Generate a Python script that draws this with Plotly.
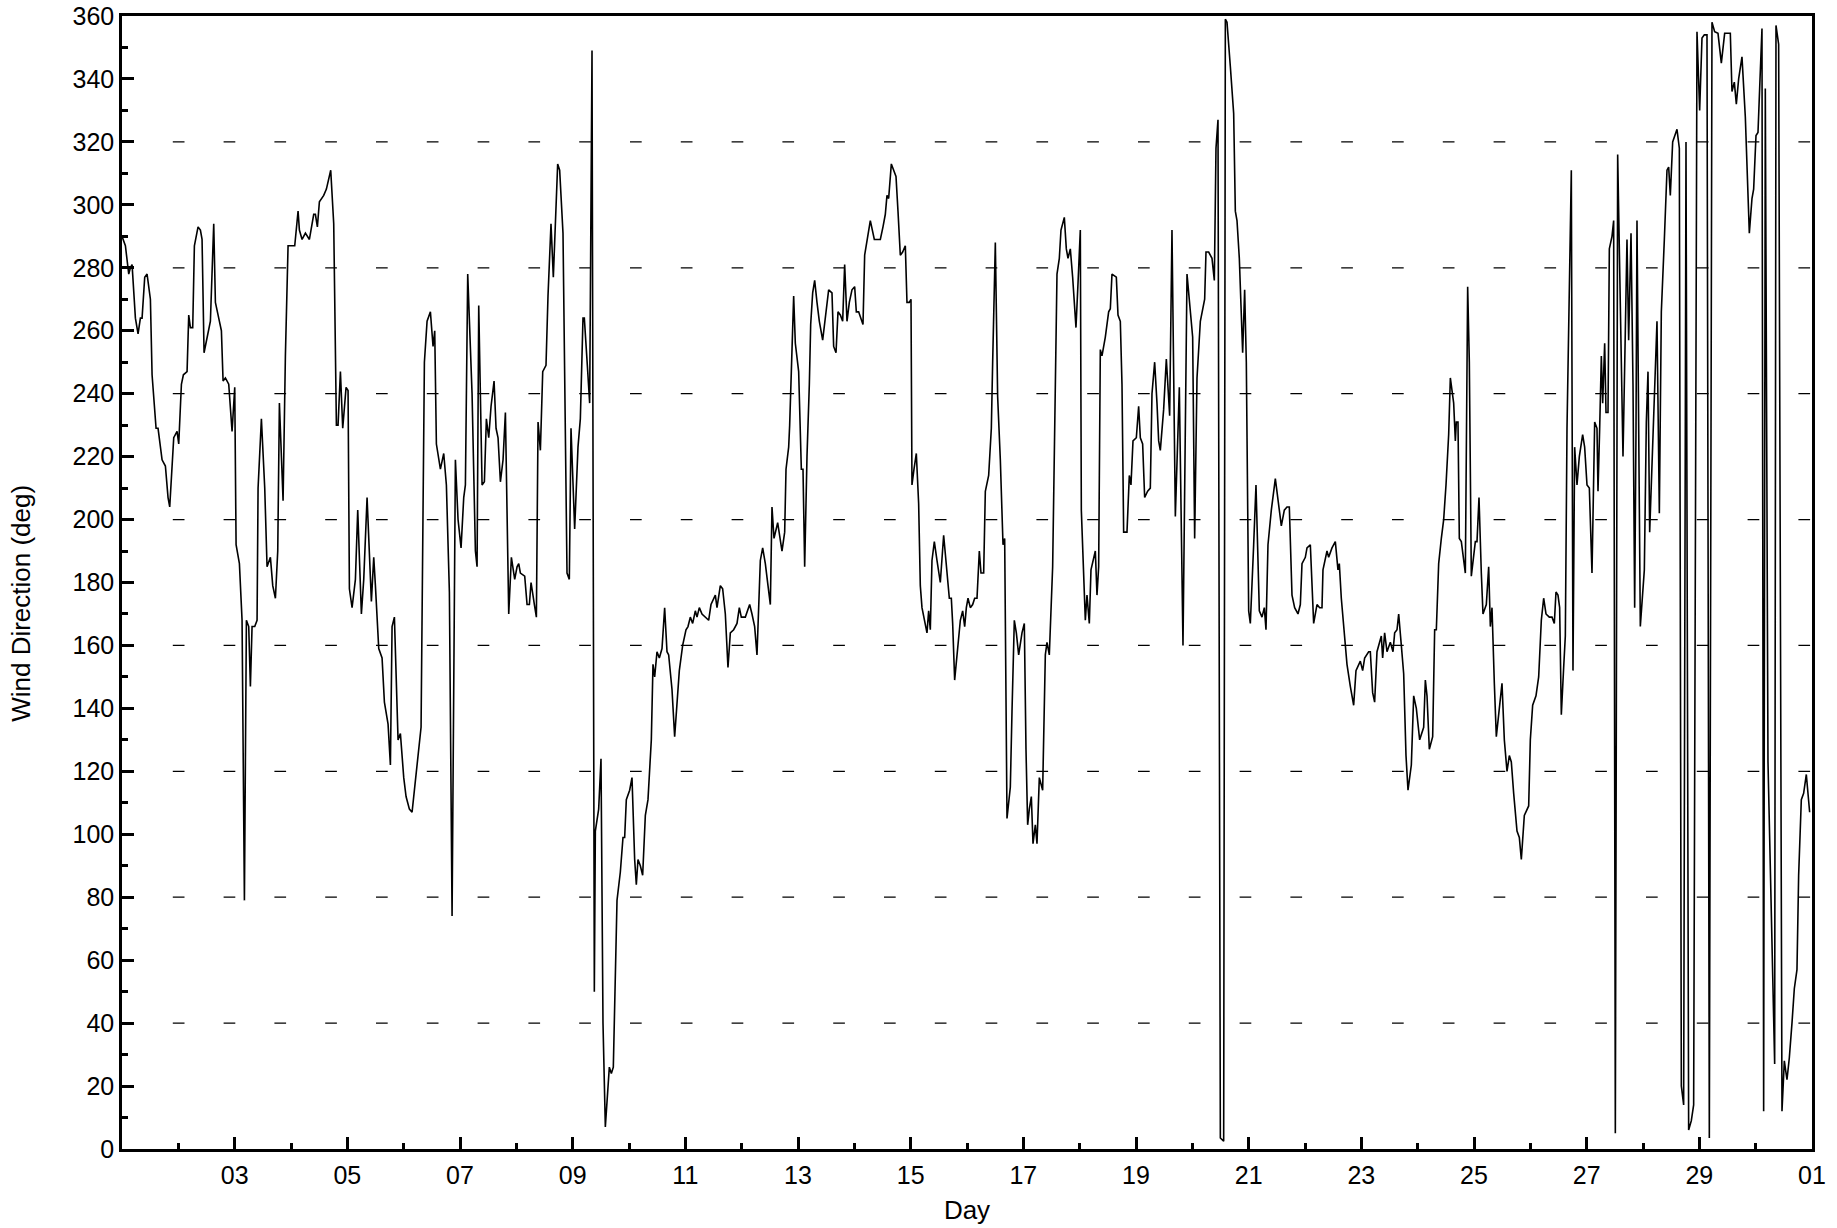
import datetime as dt
import plotly.graph_objects as go

# ---- data: hours since start of day 01, wind direction (deg) ----
hours_a = [0, 1.45, 2.87, 3.58, 4.29, 5.71, 6.84, 7.84, 8.55, 9.68,
           10.68, 12.1, 12.81, 13.52, 14.51, 15.36, 16.36, 17.07, 18.49, 19.62,
           20.33, 22.04, 23.46, 24.17, 25.31, 26.16, 27.72, 28.43, 29.14, 30.13,
           30.84, 32.4, 33.4, 34.11, 34.96, 36.24, 37.66, 39.08, 39.79, 41.21,
           42.35, 43.06, 44.05, 45.47, 46.89, 48.03, 48.6, 50.02, 51.15, 52.15,
           53.0, 53.99, 54.7, 55.41, 56.55, 57.54, 57.97, 59.39, 60.81, 61.8,
           63.23, 64.22, 65.36, 66.35, 67.06, 68.62, 69.61, 70.75, 72.03, 73.59,
           75.01, 75.58, 76.72, 78.14, 79.84, 81.68, 82.39, 83.24, 84.1, 85.94,
           87.08, 88.92, 90.2]
dir_a = [290, 287, 278, 280, 281, 264, 259, 264, 264, 277,
         278, 270, 246, 238, 229, 229, 223, 219, 217, 207,
         204, 226, 228, 224, 243, 246, 247, 265, 261, 261,
         287, 293, 292, 289, 253, 258, 263, 294, 269, 264,
         260, 244, 245, 243, 228, 242, 192, 186, 168, 79,
         168, 166, 147, 166, 166, 168, 210, 232, 210, 185,
         188, 179, 175, 190, 237, 206, 252, 287, 287, 287,
         298, 292, 289, 291, 289, 297, 297, 293, 301, 303,
         305, 311, 294]

hours_b = [91.34, 92.05, 93.05, 94.04, 95.46, 96.31, 96.88, 98.02, 99.44, 100.43,
           101.99, 102.99, 104.41, 106.25, 107.25, 107.96, 108.95, 109.38, 110.8, 111.79,
           113.35, 114.35, 115.06, 116.05, 117.61, 118.61, 120.03, 121.02, 122.44, 123.58,
           124.71, 126.13, 127.41, 128.83, 129.97, 131.39, 132.52, 133.23, 133.94, 135.65,
           137.07, 138.2, 139.48, 140.62, 142.04, 143.17, 144.45, 145.59, 146.3, 147.29,
           149.14, 150.56, 151.27, 151.98, 153.4, 154.39, 155.24, 156.24, 157.23, 158.51,
           159.36, 160.21, 161.21, 162.34, 163.34, 164.76, 165.89, 167.31, 168.31, 169.02,
           169.73, 171.57, 172.57, 173.56, 174.27, 175.69, 176.54, 177.25, 178.25, 179.24]
dir_b = [230, 230, 247, 229, 242, 241, 178, 172, 181, 203,
         170, 181, 207, 174, 188, 179, 166, 159, 156, 142,
         135, 122, 166, 169, 130, 132, 118, 112, 108, 107,
         115, 125, 134, 250, 263, 266, 255, 260, 224, 216,
         221, 211, 177, 74, 219, 200, 191, 207, 211, 278,
         240, 190, 185, 268, 211, 212, 232, 226, 236, 244,
         229, 226, 212, 219, 234, 170, 188, 181, 185, 186,
         183, 182, 173, 173, 180, 173, 169, 231, 222, 247]

hours_c = [180.64, 181.49, 182.77, 183.76, 185.61, 186.46, 187.88, 189.59, 190.58, 191.29,
           192.85, 194.27, 195.27, 196.4, 196.97, 198.25, 199.24, 200.24, 201.23, 201.66,
           203.08, 204.07, 204.92, 205.92, 206.63, 207.62, 208.47, 209.32, 210.89, 212.31,
           213.44, 214.15, 214.86, 216.28, 217.28, 218.41, 219.12, 219.83, 220.83, 221.82,
           222.96, 224.09, 225.51, 226.22, 226.93, 227.93, 228.92, 230.06, 231.19, 232.19,
           232.9, 234.32, 235.45, 236.45, 237.44, 238.86, 240.28, 241.13, 242.13, 243.12,
           244.26, 244.97, 245.96, 247.1, 249.94, 250.93, 252.78, 253.49, 254.91, 255.9,
           257.04, 258.17, 259.17, 260.59, 262.01, 263, 263.85, 265.56, 267.4, 268.4,
           269.53]
dir_c = [249, 271, 294, 277, 313, 311, 291, 183, 181, 229,
         197, 223, 232, 264, 264, 249, 237, 349, 50, 101,
         108, 124, 40, 7, 14, 26, 24, 26, 79, 88,
         99, 99, 111, 114, 118, 92, 84, 92, 90, 87,
         106, 111, 130, 154, 150, 158, 156, 159, 172, 158,
         157, 146, 131, 141, 152, 160, 165, 166, 169, 167,
         171, 169, 172, 170, 168, 173, 176, 172, 179, 178,
         170, 153, 164, 165, 167, 172, 169, 169, 173, 170,
         166]

hours_d = [270.53, 271.95, 272.95, 274.08, 275.22, 276.21, 276.92, 277.78, 279.34, 280.19,
           281.18, 282.32, 282.89, 284.02, 284.45, 285.16, 286.15, 286.86, 288.28, 289.42,
           290.13, 290.84, 291.83, 292.83, 293.4, 294.25, 295.1, 296.09, 297.09, 298.51,
           299.36, 300.35, 301.06, 302.48, 303.19, 304.19, 305.04, 306.03, 307.03, 307.88,
           308.87, 309.87, 311, 312.14, 312.85, 313.84, 315.69, 316.4, 317.82, 318.81,
           320.52, 321.65, 323.07, 324.21, 325.2, 325.91, 326.62, 327.76, 328.75, 329.75,
           330.6, 331.59, 332.59, 333.72, 334.43, 335.43, 336.14, 336.56, 337.42, 338.41,
           339.4, 340.11, 340.82, 341.96, 342.95, 343.66, 344.37, 345.08, 346.08, 347.21,
           348.63, 350.05, 351.47, 352.47, 353.32, 353.89, 354.74]
dir_d = [157, 187, 191, 186, 179, 173, 204, 194, 199, 194,
         190, 196, 216, 223, 230, 247, 271, 256, 247, 216,
         216, 185, 220, 243, 262, 272, 276, 269, 263, 257,
         263, 269, 273, 272, 255, 253, 266, 265, 263, 281,
         263, 269, 273, 274, 266, 266, 262, 284, 291, 295,
         289, 289, 289, 293, 297, 303, 302, 313, 311, 309,
         298, 284, 285, 287, 269, 269, 270, 211, 216, 221,
         205, 179, 172, 168, 164, 171, 165, 187, 193, 187,
         180, 195, 184, 175, 175, 167, 149]

hours_e = [356.17, 357.16, 358.15, 359.01, 359.72, 360.43, 361.42, 362.41, 363.27, 364.26,
           365.25, 365.96, 367.1, 367.81, 369.23, 370.37, 370.93, 372.07, 373.06, 374.2,
           375.34, 376.05, 377.04, 378.46, 379.17, 380.16, 381.02, 382.01, 383.43, 384.42,
           385.13, 385.84, 386.55, 387.41, 388.12, 389.11, 389.82, 390.81, 392.23, 393.37,
           394.08, 395.07, 396.49, 397.35, 398.34, 399.33, 400.04, 401.46, 402.32, 403.03,
           404.02, 405.01, 406.43, 407.29, 408.28, 408.71, 409.42, 410.41, 411.12, 412.11,
           412.82, 414.67, 415.38, 416.09, 416.8, 417.51, 418.93, 420.35, 421.06, 421.77,
           423.62, 424.33, 425.32, 426.03, 426.74, 428.16, 429.15, 429.86, 430.72, 432.14,
           433.13, 433.84, 434.83, 435.69, 436.96, 438.1, 438.81, 439.95, 440.94, 441.65,
           442.36, 443.78, 444.92, 446.34, 447.33]
dir_e = [160, 168, 171, 166, 172, 175, 172, 173, 175, 175,
         190, 183, 183, 209, 214, 229, 250, 288, 239, 219,
         192, 194, 105, 115, 139, 168, 164, 157, 164, 167,
         127, 103, 108, 112, 97, 103, 97, 118, 114, 157,
         161, 157, 185, 233, 278, 283, 292, 296, 286, 283,
         286, 277, 261, 275, 292, 203, 189, 168, 176, 167,
         184, 190, 176, 185, 254, 252, 258, 266, 267, 278,
         277, 265, 263, 243, 196, 196, 214, 211, 225, 226,
         236, 226, 224, 207, 209, 210, 240, 250, 237, 225,
         222, 235, 251, 233, 292]

hours_f = [448.76, 450.46, 452.02, 453.73, 456.14, 456.99, 457.99, 459.41, 461.25, 461.82,
           462.96, 464.38, 465.37, 466.08, 466.93, 467.93, 469.35, 470.06, 470.77, 472.19,
           473.61, 474.32, 475.03, 476.02, 477.44, 478.29, 479, 480, 480.71, 482.13,
           483.12, 484.54, 485.68, 486.67, 487.38, 488.23, 489.65, 491.36, 492.78, 493.91,
           495.19, 496.33, 497.32, 498.46, 499.59, 501.01, 502.01, 502.72, 504.14, 504.85,
           506.27, 507.69, 509.11, 510.24, 511.24, 511.66, 513.37, 514.08, 515.5, 516.92,
           518.05, 518.62, 519.47, 520.75, 521.89, 523.31, 524.73, 525.72, 526.86, 527.57,
           528.56, 529.41, 531.12, 531.83, 532.82, 533.67, 534.67, 535.66, 536.51, 537.08,
           537.93]
dir_f = [201, 242, 160, 278, 258, 194, 245, 263, 270, 285,
         285, 283, 276, 318, 327, 3.5, 2.5, 359, 358, 344,
         329, 298, 295, 283, 253, 273, 250, 171, 167, 192,
         211, 171, 169, 172, 165, 192, 203, 213, 204, 198,
         203, 204, 204, 176, 172, 170, 173, 186, 188, 191,
         192, 167, 173, 172, 172, 184, 190, 188, 191, 193,
         184, 186, 175, 163, 154, 147, 141, 152, 154, 155,
         152, 156, 158, 158, 145, 142, 158, 161, 163, 156,
         164]

hours_g = [538.94, 540.36, 541.49, 542.2, 543.2, 543.91, 545.04, 546.04, 547.03, 547.88,
           549.3, 550.3, 551.43, 552.85, 554.56, 555.27, 555.98, 556.97, 558.39, 559.24,
           559.95, 560.95, 562.08, 563.08, 564.07, 565.21, 565.92, 567.34, 568.05, 568.47,
           569.18, 569.75, 570.6, 571.6, 572.31, 573.3, 574.01, 574.86, 575.86, 576.57,
           577.28, 578.13, 579.12, 579.83, 581.25, 582.25, 582.96, 583.67, 584.66, 585.51,
           586.79, 587.93, 588.92, 590.06, 591.05, 591.9, 592.9, 594.32, 595.31, 596.16,
           597.44, 598.58, 599.29, 600, 600.99, 602.41, 603.55, 604.68, 605.68, 606.67,
           608.09, 609.23, 610.22, 610.93, 611.78, 612.49, 613.2, 614.2, 614.91, 615.62,
           616.61, 617.46, 618.17, 618.88, 619.88, 620.87, 622.29, 623.14]
dir_g = [158, 161, 158, 164, 165, 170, 160, 151, 125, 114,
         122, 144, 140, 130, 134, 149, 144, 127, 131, 165,
         165, 186, 194, 200, 211, 227, 245, 237, 225, 231,
         231, 194, 193, 186, 183, 274, 250, 182, 189, 193,
         193, 207, 183, 170, 173, 185, 166, 172, 148, 131,
         140, 148, 130, 120, 125, 123, 113, 101, 99, 92,
         106, 108, 109, 130, 141, 144, 150, 168, 175, 170,
         169, 169, 167, 177, 176, 172, 138, 153, 163, 229,
         271, 311, 152, 223, 211, 220, 227, 223]

hours_h = [624.14, 625.14, 626.27, 627.41, 628.4, 628.83, 629.54, 630.25, 630.82, 631.67,
           632.24, 633.09, 633.66, 634.79, 635.5, 636.21, 637.21, 638.06, 639.48, 640.47,
           641.18, 641.89, 642.89, 643.74, 644.45, 645.02, 645.44, 646.86, 648.57, 649.42,
           650.13, 650.84, 651.83, 652.83, 653.96, 654.96, 655.81, 657.09, 658.22, 658.93,
           659.64, 660.64, 662.48, 663.48, 664.33, 665.32, 666.32, 667.45, 668.59, 669.58,
           671, 672.14, 673.13, 674.13, 675.26, 676.26, 677.39, 678.53, 679.95, 681.37,
           682.79, 685.2, 685.91, 686.91, 687.76, 688.75, 690.17, 691.59, 693.3, 694.43,
           695.14, 696.14, 696.99, 697.7, 698.69, 699.4, 700.11, 701.25, 702.95, 704.09,
           704.66, 705.79, 707.21, 708.21, 709.34, 710.34, 711.47, 712.47, 713.6, 714.31,
           715.45, 716.44, 717.58, 719]
dir_h = [211, 210, 183, 231, 229, 209, 229, 252, 237, 256,
         234, 234, 286, 290, 295, 5, 316, 280, 220, 260,
         289, 257, 291, 243, 172, 229, 295, 166, 184, 231,
         247, 196, 219, 240, 263, 202, 266, 289, 311, 312,
         303, 320, 324, 318, 20, 14, 320, 6, 9, 14,
         355, 330, 353, 354, 354, 3.5, 358, 355, 354.5, 345,
         354.5, 354.5, 336, 339, 332, 340, 347, 328, 291, 302,
         305, 322, 323, 337, 356, 12, 337, 123, 59, 27,
         357, 351, 12, 28, 22, 29, 40, 51, 57, 87,
         111, 113, 119, 107]

# labelled x ticks (day offsets from the start of day 01) and grid levels
x_label_days = [2, 4, 6, 8, 10, 12, 14, 16, 18, 20, 22, 24, 26, 28, 30]
x_minor_days = [1, 3, 5, 7, 9, 11, 13, 15, 17, 19, 21, 23, 25, 27, 29]
y_ticks_major = 20
grid_levels = [40, 80, 120, 160, 200, 240, 280, 320]
start = dt.datetime(2023, 6, 1)

hours = []
direction = []
for h_seg, d_seg in [(hours_a, dir_a), (hours_b, dir_b), (hours_c, dir_c), (hours_d, dir_d),
                     (hours_e, dir_e), (hours_f, dir_f), (hours_g, dir_g), (hours_h, dir_h)]:
    if len(h_seg) != len(d_seg):
        raise ValueError("segment length mismatch: %d vs %d" % (len(h_seg), len(d_seg)))
    hours += h_seg
    direction += d_seg

times = [start + dt.timedelta(hours=h) for h in hours]
major_vals = [start + dt.timedelta(days=d) for d in x_label_days]
major_text = [v.strftime("%d") for v in major_vals]
minor_vals = [start + dt.timedelta(days=d) for d in x_minor_days]

FONT = "Liberation Sans, Arial, Helvetica, sans-serif"

fig = go.Figure()
fig.add_trace(go.Scatter(x=times, y=direction, mode="lines",
                         line=dict(color="black", width=1.6), showlegend=False,
                         hoverinfo="skip"))

for g in grid_levels:
    fig.add_shape(type="line", xref="paper", x0=0, x1=1, yref="y", y0=g, y1=g,
                  line=dict(color="black", width=1.2, dash="11.7px,39.1px"), layer="below")

fig.add_annotation(text="Wind Direction (deg)", textangle=-90, showarrow=False,
                   xref="paper", yref="paper", x=-0.0598, y=0.482,
                   xanchor="center", yanchor="middle",
                   font=dict(family=FONT, size=26, color="black"))

fig.update_layout(
    width=1837, height=1228,
    margin=dict(l=122, r=25, t=16, b=79, autoexpand=False),
    paper_bgcolor="white", plot_bgcolor="white",
    font=dict(family=FONT, size=25, color="black"),
    showlegend=False,
)
fig.update_xaxes(
    type="date",
    range=[start, start + dt.timedelta(days=30)],
    tickmode="array", tickvals=major_vals, ticktext=major_text,
    ticks="inside", ticklen=12, tickwidth=2.5, tickcolor="black",
    minor=dict(tickmode="array", tickvals=minor_vals, ticks="inside", ticklen=6,
               tickwidth=2.5, tickcolor="black"),
    showline=True, linewidth=2.5, linecolor="black", mirror=True,
    showgrid=False, zeroline=False, automargin=False,
    tickfont=dict(size=25), ticklabelstandoff=2,
    title=dict(text="Day", font=dict(size=26), standoff=14),
)
fig.update_yaxes(
    range=[0, 360], tick0=0, dtick=y_ticks_major,
    ticks="inside", ticklen=12, tickwidth=2.5, tickcolor="black",
    minor=dict(dtick=10, ticks="inside", ticklen=6, tickwidth=2.5, tickcolor="black"),
    showline=True, linewidth=2.5, linecolor="black", mirror=True,
    showgrid=False, zeroline=False, automargin=False,
    tickfont=dict(size=25), ticklabelstandoff=0,
)

fig.write_html("out.html", config={"displayModeBar": False},
               post_script="document.body.style.margin='0';document.body.style.overflow='hidden';")
